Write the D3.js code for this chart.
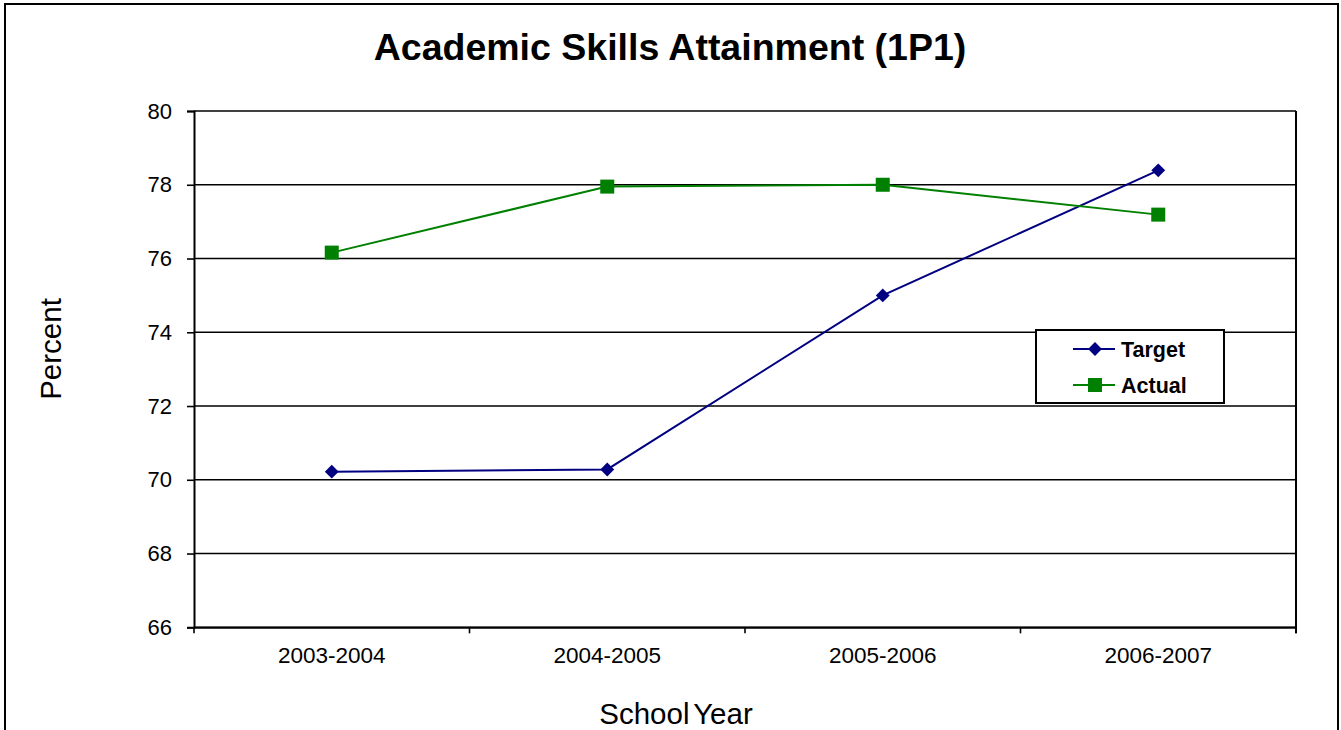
<!DOCTYPE html>
<html>
<head>
<meta charset="utf-8">
<script src="https://cdn.jsdelivr.net/npm/d3@7"></script>
<style>
  html, body { margin: 0; padding: 0; background: #fff; }
  svg { display: block; font-family: Arial, "Liberation Sans", sans-serif; }
</style>
</head>
<body>
<svg id="chart" width="1341" height="730"></svg>
<script>
// Chart data
const years = ["2003-2004", "2004-2005", "2005-2006", "2006-2007"];
const targetValues = [70.22, 70.28, 75.0, 78.39];
const actualValues = [76.16, 77.95, 78.0, 77.19];
const yTicks = [66, 68, 70, 72, 74, 76, 78, 80];
const seriesNames = ["Target", "Actual"];

const series = [
  { name: seriesNames[0], values: targetValues, color: "#000080", marker: "diamond" },
  { name: seriesNames[1], values: actualValues, color: "#008000", marker: "square" }
];

const svg = d3.select("#chart");
const W = 1341, H = 730;
const plot = { left: 194, top: 111, right: 1296, bottom: 627.3 };

// Outer chart frame
svg.append("rect")
  .attr("x", 5).attr("y", 4)
  .attr("width", 1338 - 5).attr("height", H + 10)
  .attr("fill", "#fff").attr("stroke", "#000").attr("stroke-width", 2);

const x = d3.scaleBand().domain(years).range([plot.left, plot.right]).padding(0);
const y = d3.scaleLinear().domain([66, 80]).range([plot.bottom, plot.top]);

// Horizontal gridlines
svg.append("g")
  .selectAll("line")
  .data(yTicks)
  .join("line")
  .attr("x1", plot.left).attr("x2", plot.right)
  .attr("y1", d => y(d)).attr("y2", d => y(d))
  .attr("stroke", "#000").attr("stroke-width", 1.6);

// Plot area border (right side)
svg.append("line")
  .attr("x1", plot.right).attr("x2", plot.right)
  .attr("y1", plot.top).attr("y2", plot.bottom + 6)
  .attr("stroke", "#000").attr("stroke-width", 2);

// Y axis
const yAxis = svg.append("g")
  .attr("transform", `translate(${plot.left},0)`)
  .call(d3.axisLeft(y).tickValues(yTicks).tickSize(7).tickPadding(15).tickFormat(d3.format("d")));
yAxis.select(".domain").attr("stroke", "#000").attr("stroke-width", 2);
yAxis.selectAll(".tick line").attr("stroke", "#000").attr("stroke-width", 1.6);
yAxis.selectAll(".tick text")
  .attr("font-size", 22).attr("fill", "#000")
  .attr("font-family", "Arial, 'Liberation Sans', sans-serif");

// X axis: labels centred on categories, tick marks on category boundaries
const xAxis = svg.append("g")
  .attr("transform", `translate(0,${plot.bottom})`)
  .call(d3.axisBottom(x).tickSize(0).tickPadding(20));
xAxis.select(".domain").attr("stroke", "#000").attr("stroke-width", 2);
xAxis.selectAll(".tick text")
  .attr("font-size", 22.5).attr("fill", "#000")
  .attr("font-family", "Arial, 'Liberation Sans', sans-serif");

const boundaries = years.map(d => x(d)).concat([x(years[years.length - 1]) + x.bandwidth()]);
svg.append("g")
  .selectAll("line")
  .data(boundaries)
  .join("line")
  .attr("x1", d => d).attr("x2", d => d)
  .attr("y1", plot.bottom).attr("y2", plot.bottom + 6)
  .attr("stroke", "#000").attr("stroke-width", 1.6);

// Series lines and markers
const line = d3.line()
  .x((d, i) => x(years[i]) + x.bandwidth() / 2)
  .y(d => y(d));

function drawMarker(g, type, color) {
  if (type === "diamond") {
    g.append("path").attr("d", d3.symbol().type(d3.symbolSquare).size(96)())
      .attr("transform", "rotate(45)")
      .attr("fill", color);
  } else {
    g.append("rect").attr("x", -7).attr("y", -7).attr("width", 14).attr("height", 14)
      .attr("fill", color);
  }
}

series.forEach(s => {
  svg.append("path")
    .datum(s.values)
    .attr("d", line)
    .attr("fill", "none")
    .attr("stroke", s.color)
    .attr("stroke-width", 2);

  svg.append("g")
    .selectAll("g")
    .data(s.values)
    .join("g")
    .attr("transform", (d, i) => `translate(${x(years[i]) + x.bandwidth() / 2},${y(d)})`)
    .each(function () { drawMarker(d3.select(this), s.marker, s.color); });
});

// Title
svg.append("text")
  .attr("x", 670).attr("y", 60)
  .attr("text-anchor", "middle")
  .attr("font-size", 37.5).attr("font-weight", "bold")
  .text("Academic Skills Attainment (1P1)");

// Axis titles
svg.append("text")
  .attr("transform", "translate(61,349) rotate(-90)")
  .attr("text-anchor", "middle")
  .attr("font-size", 29.5)
  .text("Percent");

svg.append("text")
  .attr("x", 676).attr("y", 724)
  .attr("text-anchor", "middle")
  .attr("font-size", 29.5)
  .attr("word-spacing", -4)
  .text("School Year");

// Legend
const legend = svg.append("g");
legend.append("rect")
  .attr("x", 1036).attr("y", 330)
  .attr("width", 188).attr("height", 73)
  .attr("fill", "#fff").attr("stroke", "#000").attr("stroke-width", 2);

const legendY = [349, 385];
series.forEach((s, i) => {
  const g = legend.append("g");
  g.append("line")
    .attr("x1", 1073).attr("x2", 1115)
    .attr("y1", legendY[i]).attr("y2", legendY[i])
    .attr("stroke", s.color).attr("stroke-width", 2);
  const m = g.append("g").attr("transform", `translate(1095,${legendY[i]})`);
  drawMarker(m, s.marker, s.color);
  g.append("text")
    .attr("x", 1121).attr("y", legendY[i] + 7.5)
    .attr("font-size", 21.5).attr("font-weight", "bold")
    .text(s.name);
});
</script>
</body>
</html>
